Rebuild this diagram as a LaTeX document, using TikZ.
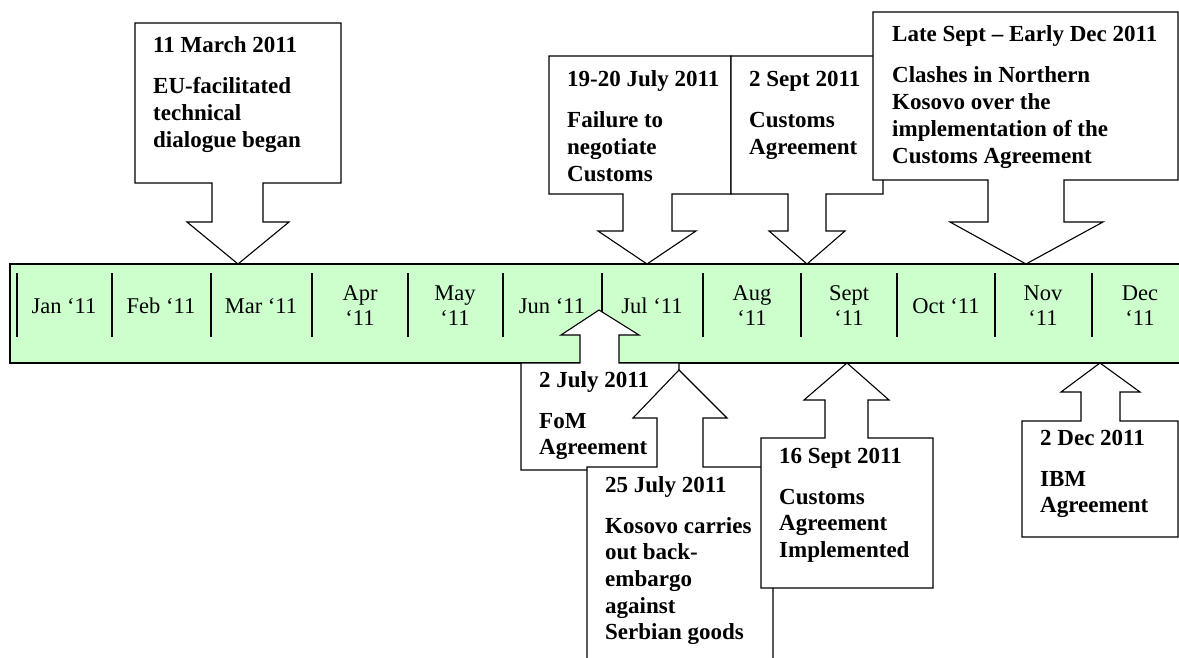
\documentclass[tikz,border=0pt]{standalone}
\usepackage{fontspec}
\setmainfont{Liberation Serif}
\definecolor{bandgreen}{RGB}{204,255,204}
\newcommand\calltxt[2]{\begin{tabular}[t]{@{}l@{}}#1\\[14.3pt]#2\end{tabular}}
\newcommand\twoline[2]{\begin{tabular}[t]{@{}c@{}}#1\\#2\end{tabular}}
\begin{document}
\begin{tikzpicture}[x=1pt,y=-1pt,
  callbox/.style={draw=black,fill=white,line width=1.1pt,line join=miter},
  divider/.style={draw=black,line width=1.1pt},
  calltext/.style={anchor=base west,inner sep=0pt,font=\bfseries\fontsize{23}{26.7}\selectfont,text=black},
  monthtext/.style={anchor=base,inner sep=0pt,font=\fontsize{22.5}{25}\selectfont,text=black}]
\useasboundingbox (0,0) rectangle (1179,658);
\clip (0,0) rectangle (1179,658);
% band
\draw[line width=1.1pt,fill=bandgreen] (10,264) rectangle (1195,363);
\foreach \x in {17,112,211,312,408,503,602,703,801,897,995,1092}
  \draw[divider] (\x,273) -- (\x,337);
% month labels
\node[monthtext] (jan) at (64,313) {Jan ‘11};
\node[monthtext] (feb) at (161,313) {Feb ‘11};
\node[monthtext] (mar) at (261,313) {Mar ‘11};
\node[monthtext] (apr) at (360,300) {\twoline{Apr}{‘11}};
\node[monthtext] (may) at (455,300) {\twoline{May}{‘11}};
\node[monthtext] (jun) at (552,313) {Jun ‘11};
\node[monthtext] (jul) at (652,313) {Jul ‘11};
\node[monthtext] (aug) at (752,300) {\twoline{Aug}{‘11}};
\node[monthtext] (sep) at (849,300) {\twoline{Sept}{‘11}};
\node[monthtext] (oct) at (946,313) {Oct ‘11};
\node[monthtext] (nov) at (1043,300) {\twoline{Nov}{‘11}};
\node[monthtext] (dec) at (1140,300) {\twoline{Dec}{‘11}};
% top callouts
\draw[callbox] (135,23) -- (341,23) -- (341,183) -- (263,183) -- (263,222) -- (289,222)
  -- (238,264) -- (187,222) -- (212,222) -- (212,183) -- (135,183) -- cycle;
\node[calltext] (mar11) at (153,53) {\calltxt{11 March 2011}{EU-facilitated\\technical\\dialogue began}};
\draw[callbox] (549,56) -- (731,56) -- (731,194) -- (672,194) -- (672,231) -- (696,231)
  -- (647,264) -- (598,231) -- (623,231) -- (623,194) -- (549,194) -- cycle;
\node[calltext] (jul19) at (567,87) {\calltxt{19-20 July 2011}{Failure to\\negotiate\\Customs}};
\draw[callbox] (731,56) -- (883,56) -- (883,194) -- (826,194) -- (826,231) -- (845,231)
  -- (807,264) -- (769,231) -- (788,231) -- (788,194) -- (731,194) -- cycle;
\node[calltext] (sep2) at (749,87) {\calltxt{2 Sept 2011}{Customs\\Agreement}};
\draw[callbox] (873,12) -- (1178,12) -- (1178,180) -- (1064,180) -- (1064,222) -- (1103,222)
  -- (1026,264) -- (950,222) -- (988,222) -- (988,180) -- (873,180) -- cycle;
\node[calltext] (late) at (892,42) {\calltxt{Late Sept – Early Dec 2011}{Clashes in Northern\\Kosovo over the\\implementation of the\\Customs Agreement}};
% bottom callouts
\draw[callbox] (599,310) -- (639,335) -- (619,335) -- (619,363) -- (679,363) -- (679,470)
  -- (521,470) -- (521,363) -- (580,363) -- (580,335) -- (561,335) -- cycle;
\node[calltext] (jul2) at (539,387) {\calltxt{2 July 2011}{FoM\\Agreement}};
\draw[callbox] (679,370) -- (727,418) -- (703,418) -- (703,467) -- (773,467) -- (773,680)
  -- (587,680) -- (587,467) -- (657,467) -- (657,418) -- (633,418) -- cycle;
\node[calltext] (jul25) at (605,492) {\calltxt{25 July 2011}{Kosovo carries\\out back-\\embargo\\against\\Serbian goods}};
\draw[callbox] (847,363) -- (889,400) -- (868,400) -- (868,438) -- (933,438) -- (933,588)
  -- (761,588) -- (761,438) -- (825,438) -- (825,400) -- (804,400) -- cycle;
\node[calltext] (sep16) at (779,463) {\calltxt{16 Sept 2011}{Customs\\Agreement\\Implemented}};
\draw[callbox] (1100,363) -- (1140,392) -- (1120,392) -- (1120,421) -- (1178,421) -- (1178,537)
  -- (1022,537) -- (1022,421) -- (1081,421) -- (1081,392) -- (1061,392) -- cycle;
\node[calltext] (dec2) at (1040,445) {\calltxt{2 Dec 2011}{IBM\\Agreement}};
\end{tikzpicture}
\end{document}
